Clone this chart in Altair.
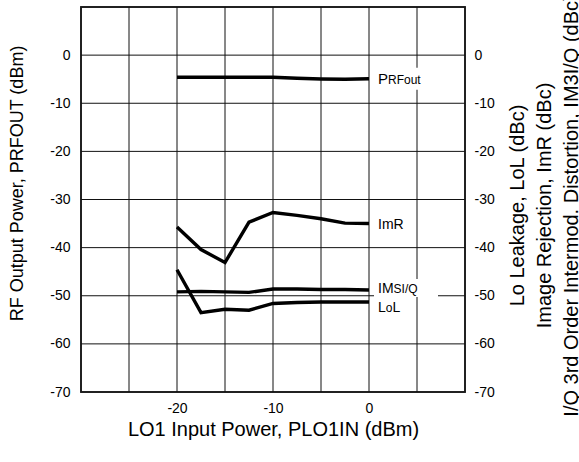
import json
import altair as alt
import pandas as pd

# ---------------- data ----------------
lo1_power = [-20, -17.5, -15, -12.5, -10, -7.5, -5, -2.5, 0]          # dBm
p_rfout   = [-4.6, -4.6, -4.6, -4.6, -4.6, -4.8, -4.95, -5.0, -4.9]   # dBm
im_r      = [-35.7, -40.4, -43.1, -34.7, -32.7, -33.3, -34.0, -34.9, -35.0]
im3_iq    = [-49.2, -49.1, -49.2, -49.3, -48.6, -48.6, -48.7, -48.7, -48.8]
lo_leak   = [-44.6, -53.5, -52.8, -53.0, -51.6, -51.4, -51.3, -51.3, -51.3]

series_names = ["PRFout", "ImR", "IMSI/Q", "LoL"]
series_values = [p_rfout, im_r, im3_iq, lo_leak]

# label pieces: big letters and small-caps parts
label_parts = {
    "PRFout": [("P", 15), ("RFout", 12)],
    "ImR": [("ImR", 14)],
    "IMSI/Q": [("IM", 14), ("SI/Q", 12)],
    "LoL": [("L", 14), ("o", 12), ("L", 14)],
}

x_grid = [-30, -25, -20, -15, -10, -5, 0, 5, 10]
x_labels = [-20, -10, 0]
y_grid = [-70, -60, -50, -40, -30, -20, -10, 0, 10]
y_labels = [-70, -60, -50, -40, -30, -20, -10, 0]

x_title = "LO1 Input Power, PLO1IN (dBm)"
y_left_title = "RF Output Power, PRFOUT (dBm)"
y_right_title = [
    "Lo Leakage, LoL (dBc)",
    "Image Rejection, ImR (dBc)",
    "I/Q 3rd Order Intermod. Distortion, IM3I/Q (dBc)",
]

# ---------------- tables ----------------
rows = []
for name, vals in zip(series_names, series_values):
    for xv, yv in zip(lo1_power, vals):
        rows.append({"series": name, "lo1": xv, "value": yv})
df = pd.DataFrame(rows)

labels_df = pd.DataFrame({
    "label": series_names,
    "lo1": [lo1_power[-1]] * len(series_names),
    "value": [v[-1] for v in series_values],
})
xgrid_df = pd.DataFrame({"lo1": x_grid})
ygrid_df = pd.DataFrame({"value": y_grid})

FONT = "Liberation Sans"
W, H = 384, 385

# Arial advance widths (per 1000 em) for label layout
ADV = {"P": 667, "R": 722, "F": 611, "o": 556, "u": 556, "t": 278, "I": 278,
       "m": 833, "M": 833, "S": 667, "/": 278, "Q": 778, "L": 556}


def text_width(s, size):
    return sum(ADV.get(c, 556) for c in s) * size / 1000.0


xscale = alt.Scale(domain=[-30, 10], nice=False, zero=False)
yscale = alt.Scale(domain=[-70, 10], nice=False, zero=False)


def label_expr(vals):
    return f"indexof({json.dumps(vals)}, datum.value) >= 0 ? datum.value + '' : ''"


x_axis = alt.Axis(
    values=x_grid, labelExpr=label_expr(x_labels),
    grid=False, labelPadding=9, labelFontSize=14,
    title=x_title, titleFontSize=20, titleY=27, titleBaseline="top",
)
y_left = alt.Axis(
    orient="left", values=y_grid, labelExpr=label_expr(y_labels),
    grid=False, labelPadding=11, labelFontSize=14,
    title=y_left_title, titleFontSize=18, titleAngle=270,
    titleX=-55, titleY=176, titleBaseline="bottom", titleAlign="center",
)
y_right = alt.Axis(
    orient="right", values=y_grid, labelExpr=label_expr(y_labels),
    grid=False, labelPadding=9, labelFontSize=14,
    title=y_right_title, titleFontSize=20, titleAngle=270,
    titleX=42, titleY=198, titleBaseline="top", titleAlign="center",
    titleLineHeight=27,
)

X = alt.X("lo1:Q", scale=xscale, axis=x_axis)

grid_v = alt.Chart(xgrid_df).mark_rule(color="#111", strokeWidth=1).encode(x=X)
grid_h = alt.Chart(ygrid_df).mark_rule(color="#111", strokeWidth=1).encode(
    y=alt.Y("value:Q", scale=yscale, axis=None)
)

lines = alt.Chart(df).mark_line(color="black", strokeWidth=3.4).encode(
    x=X,
    y=alt.Y("value:Q", scale=yscale, axis=y_left),
    detail="series:N",
)

right_axis = alt.Chart(df).mark_line(opacity=0).encode(
    x=X,
    y=alt.Y("value:Q", scale=yscale, axis=y_right),
    detail="series:N",
)

# label styling: (dy of label centre, box width, box top, box bottom)
label_style = {
    "PRFout": (0, 52, -11, 11),
    "ImR": (0, 32, -9, 9),
    "IMSI/Q": (-1.5, 64, -11, 7),
    "LoL": (5, 40, -6, 14),
}

layers = [grid_v, grid_h, lines, right_axis]
for name in series_names:
    dy, bw, bt, bb = label_style[name]
    base = alt.Chart(labels_df).transform_filter(alt.datum.label == name)
    box = base.mark_rect(color="white", xOffset=5, x2Offset=5 + bw,
                         yOffset=bt, y2Offset=bb).encode(
        x=X, x2="lo1:Q",
        y=alt.Y("value:Q", scale=yscale, axis=None), y2="value:Q",
    )
    layers.append(box)
    offset = 9.0
    for part, size in label_parts[name]:
        txt = base.mark_text(align="left", baseline="alphabetic",
                             dx=offset, dy=dy + 5, fontSize=size,
                             font=FONT, color="black", text=part).encode(
            x=X,
            y=alt.Y("value:Q", scale=yscale, axis=None),
        )
        layers.append(txt)
        offset += text_width(part, size)

chart = alt.layer(*layers).resolve_scale(y="independent").properties(
    width=W, height=H,
    autosize="none",
    padding={"left": 81, "top": 7, "right": 114, "bottom": 70},
    background="white",
).configure_view(
    stroke="#333", strokeWidth=2,
).configure_axis(
    domain=False, ticks=False, tickSize=0,
    labelFont=FONT, titleFont=FONT, labelColor="black", titleColor="black",
    titleFontWeight="normal",
)

chart.save("out.html", embed_options={"renderer": "svg", "actions": False})
